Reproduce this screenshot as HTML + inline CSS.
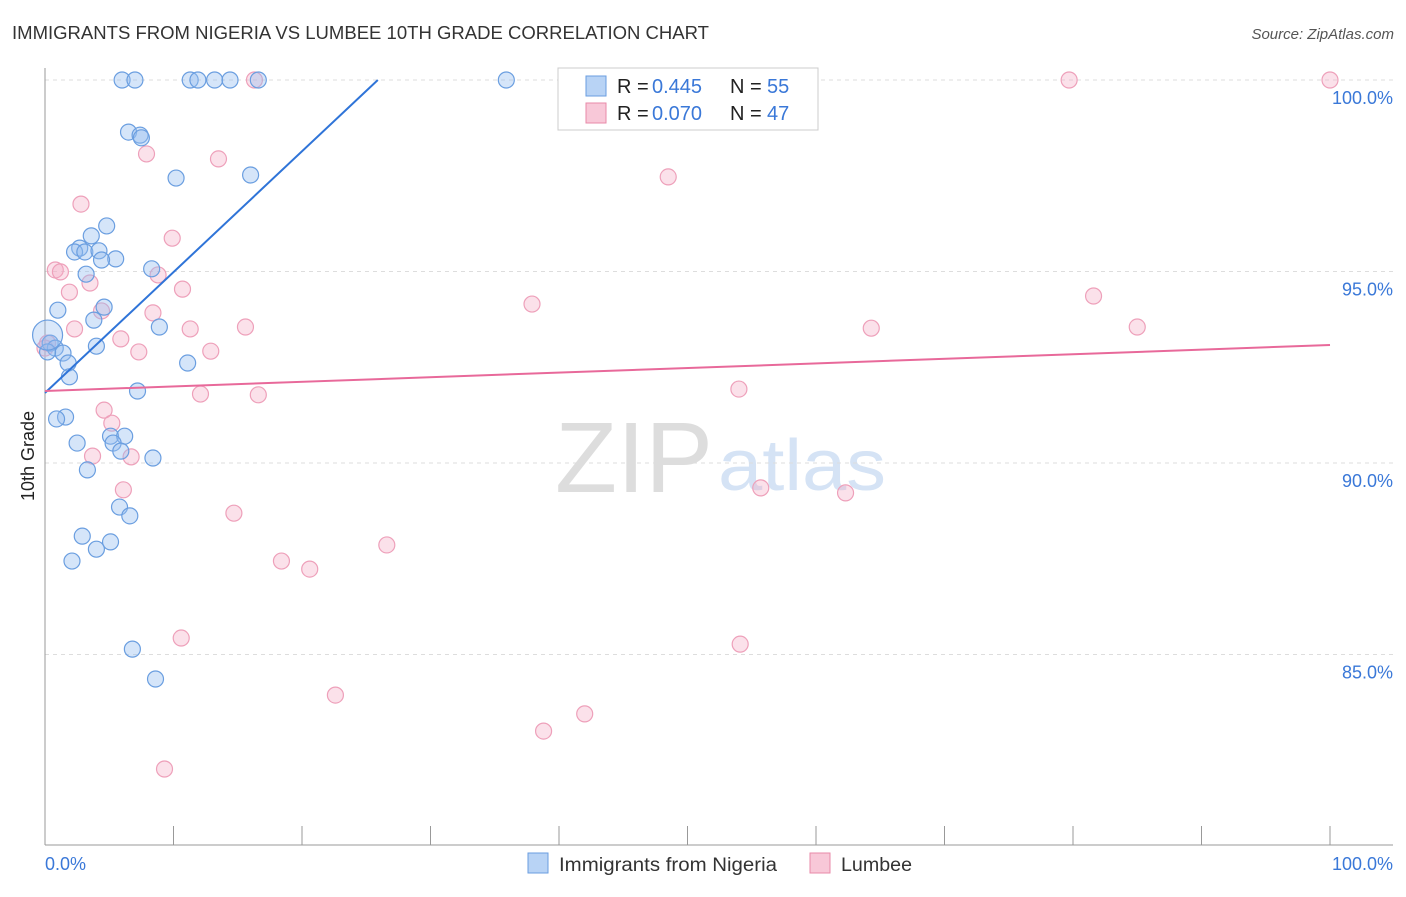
<!DOCTYPE html>
<html><head><meta charset="utf-8"><style>
body{margin:0;background:#fff;font-family:"Liberation Sans",sans-serif;}
svg text{font-family:"Liberation Sans",sans-serif;}
</style></head><body>
<svg id="chart" width="1406" height="892">
<text x="12" y="39" font-size="18" fill="#333" textLength="697" lengthAdjust="spacingAndGlyphs">IMMIGRANTS FROM NIGERIA VS LUMBEE 10TH GRADE CORRELATION CHART</text>
<text x="1394" y="39" font-size="15" fill="#555" font-style="italic" text-anchor="end">Source: ZipAtlas.com</text>
<text x="34" y="456" font-size="18" fill="#222" text-anchor="middle" transform="rotate(-90 34 456)">10th Grade</text>
<g><text x="555" y="492" font-size="100" fill="#ddd" font-family="Liberation Serif" textLength="158" lengthAdjust="spacingAndGlyphs">ZIP</text><text x="718" y="490" font-size="72" fill="#d5e3f5" textLength="168" lengthAdjust="spacingAndGlyphs">atlas</text></g>
<g id="grid"></g><g id="axes"></g><g id="pts"></g><g id="trend"></g>
<g>
<rect x="558" y="68" width="260" height="62" fill="#fff" stroke="#ccc"/>
<rect x="586" y="76" width="20" height="20" fill="#b8d3f5" stroke="#6a9ee0"/>
<rect x="586" y="103" width="20" height="20" fill="#f8c8d8" stroke="#e88aa8"/>
<text x="617" y="93" font-size="20" fill="#222">R =</text><text x="652" y="93" font-size="20" fill="#3a78d8">0.445</text>
<text x="730" y="93" font-size="20" fill="#222">N =</text><text x="767" y="93" font-size="20" fill="#3a78d8">55</text>
<text x="617" y="120" font-size="20" fill="#222">R =</text><text x="652" y="120" font-size="20" fill="#3a78d8">0.070</text>
<text x="730" y="120" font-size="20" fill="#222">N =</text><text x="767" y="120" font-size="20" fill="#3a78d8">47</text>
</g>
<g>
<rect x="528" y="853" width="20" height="20" fill="#b8d3f5" stroke="#6a9ee0"/>
<text x="559" y="871" font-size="19" fill="#333" textLength="218" lengthAdjust="spacingAndGlyphs">Immigrants from Nigeria</text>
<rect x="810" y="853" width="20" height="20" fill="#f8c8d8" stroke="#e88aa8"/>
<text x="841" y="871" font-size="19" fill="#333" textLength="71" lengthAdjust="spacingAndGlyphs">Lumbee</text>
</g>
</svg>
<script>
const blueX=[6.0,7.0,11.3,11.9,13.2,14.4,16.6,35.9,6.5,7.4,7.5,10.2,16.0,4.8,3.6,2.7,2.3,3.1,4.2,5.5,4.4,8.3,3.2,4.6,1.0,3.8,8.9,0.4,4.0,0.8,1.4,0.2,1.8,11.1,1.9,7.2,1.6,0.9,2.5,5.1,6.2,5.3,5.9,8.4,3.3,5.8,6.6,2.9,5.1,4.0,2.1,6.8,8.6];
const blueY=[100,100,100,100,100,100,100,100,98.64,98.56,98.49,97.44,97.52,96.19,95.93,95.61,95.51,95.51,95.54,95.33,95.30,95.07,94.93,94.07,93.99,93.73,93.55,93.13,93.05,93.0,92.87,92.9,92.61,92.61,92.25,91.88,91.2,91.15,90.52,90.7,90.7,90.52,90.31,90.13,89.82,88.85,88.62,88.09,87.94,87.75,87.44,85.14,84.36];
const pinkX=[16.3,79.7,100,7.9,13.5,48.5,2.8,9.9,0.8,1.2,8.8,3.5,1.9,10.7,37.9,81.6,4.4,8.4,2.3,11.3,15.6,64.3,85.0,5.9,7.3,12.9,0.2,0,54.0,12.1,16.6,4.6,5.2,3.7,6.7,6.1,55.7,62.3,14.7,26.6,18.4,20.6,10.6,54.1,22.6,42.0,38.8,9.3];
const pinkY=[100,100,100,98.07,97.94,97.47,96.76,95.87,95.04,94.99,94.91,94.7,94.46,94.54,94.15,94.36,93.97,93.92,93.5,93.5,93.55,93.52,93.55,93.24,92.9,92.92,93.13,93.0,91.93,91.8,91.78,91.38,91.04,90.18,90.16,89.3,89.35,89.22,88.69,87.86,87.44,87.23,85.43,85.27,83.94,83.45,83.0,82.01];
const yTicks=[100,95,90,85];
const yTickLabels=["100.0%","95.0%","90.0%","85.0%"];
const xTickVals=[0,10,20,30,40,50,60,70,80,90,100];
const blueTrend=[[0,91.83],[25.9,100]];
const pinkTrend=[[0,91.88],[100,93.08]];
const NS="http://www.w3.org/2000/svg";
const sx=v=>45+v*12.85, sy=v=>80+(100-v)*38.3;
function mk(p,t,a){const e=document.createElementNS(NS,t);for(const k in a)e.setAttribute(k,a[k]);p.appendChild(e);return e;}
const grid=document.getElementById('grid'),axes=document.getElementById('axes'),pts=document.getElementById('pts'),tr=document.getElementById('trend');
yTicks.forEach((t,i)=>{
 const l=mk(grid,'line',{x1:45,x2:1393,y1:sy(t),y2:sy(t),stroke:'#ddd','stroke-dasharray':'4,4'});
 
 
 const tx=mk(axes,'text',{x:1393,y:sy(t)+24,'font-size':18,fill:'#3a78d8','text-anchor':'end'});tx.textContent=yTickLabels[i];
 
 
});
let a=mk(axes,'line',{x1:45,x2:45,y1:68,y2:845,stroke:'#999'});


a=mk(axes,'line',{x1:45,x2:1393,y1:845,y2:845,stroke:'#999'});


xTickVals.forEach(v=>{const t=mk(axes,'line',{x1:sx(v),x2:sx(v),y1:826,y2:845,stroke:'#999'});
 
 });
let lb=mk(axes,'text',{x:45,y:870,'font-size':18,fill:'#3a78d8'});lb.textContent='0.0%';


lb=mk(axes,'text',{x:1393,y:870,'font-size':18,fill:'#3a78d8','text-anchor':'end'});lb.textContent='100.0%';


pinkX.forEach((x,i)=>{const c=mk(pts,'circle',{cx:sx(x),cy:sy(pinkY[i]),r:8,fill:'rgba(244,170,195,0.35)',stroke:'#eea0ba','stroke-width':1.2});
 
 });
blueX.forEach((x,i)=>{const c=mk(pts,'circle',{cx:sx(x),cy:sy(blueY[i]),r:8,fill:'rgba(150,190,240,0.4)',stroke:'#6a9ee0','stroke-width':1.2});
 
 });
const big=mk(pts,'circle',{cx:sx(0.2),cy:sy(93.34),r:15,fill:'rgba(150,190,240,0.35)',stroke:'#6a9ee0','stroke-width':1.2});


let t1=mk(tr,'line',{x1:sx(blueTrend[0][0]),y1:sy(blueTrend[0][1]),x2:sx(blueTrend[1][0]),y2:sy(blueTrend[1][1]),stroke:'#2f74d8','stroke-width':2});


let t2=mk(tr,'line',{x1:sx(pinkTrend[0][0]),y1:sy(pinkTrend[0][1]),x2:sx(pinkTrend[1][0]),y2:sy(pinkTrend[1][1]),stroke:'#e8699a','stroke-width':2});


</script>
</body></html>
